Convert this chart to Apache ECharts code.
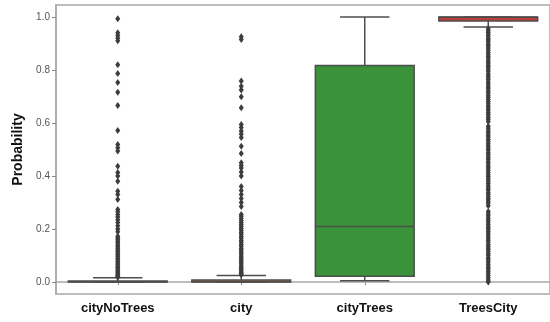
<!DOCTYPE html>
<html>
<head>
<meta charset="utf-8">
<script src="https://cdn.jsdelivr.net/npm/echarts@6/dist/echarts.min.js"></script>
<style>
html,body{margin:0;padding:0;background:#fff;}
#chart{width:550px;height:322px;}
</style>
</head>
<body>
<div id="chart"></div>
<script>
// ---- data ----
const categories = ['cityNoTrees', 'city', 'cityTrees', 'TreesCity'];
const boxMin    = [0.000, 0.000, 0.005, 0.962];
const boxQ1     = [0.000, 0.000, 0.022, 0.985];
const boxMedian = [0.001, 0.002, 0.210, 0.999];
const boxQ3     = [0.004, 0.008, 0.817, 1.000];
const boxMax    = [0.016, 0.025, 1.000, 1.000];
const yTicks = [0.0, 0.2, 0.4, 0.6, 0.8, 1.0];

const outliersCityNoTrees = [0.993, 0.94, 0.93, 0.92, 0.91, 0.82, 0.787, 0.753, 0.716, 0.666, 0.572, 0.519, 0.507, 0.494,
  0.437, 0.413, 0.40, 0.38, 0.343, 0.33, 0.311, 0.274, 0.265, 0.255, 0.245, 0.235, 0.225, 0.212, 0.20, 0.19,
  0.173, 0.166, 0.16, 0.153, 0.147, 0.14, 0.134, 0.128, 0.121, 0.115, 0.109, 0.102, 0.096, 0.09, 0.084, 0.078,
  0.072, 0.066, 0.06, 0.055, 0.05, 0.045, 0.04, 0.035, 0.031, 0.027, 0.023, 0.02, 0.018];
const outliersCity = [0.925, 0.915, 0.758, 0.739, 0.724, 0.699, 0.657, 0.594, 0.583, 0.57, 0.558, 0.545, 0.512, 0.485,
  0.45, 0.44, 0.43, 0.415, 0.40, 0.36, 0.345, 0.33, 0.315, 0.30, 0.285,
  0.255, 0.248, 0.24, 0.232, 0.225, 0.217, 0.21, 0.202, 0.195, 0.187, 0.18, 0.172, 0.165, 0.157, 0.15, 0.142,
  0.135, 0.127, 0.12, 0.112, 0.105, 0.097, 0.09, 0.083, 0.076, 0.069, 0.062, 0.055, 0.049, 0.043, 0.037, 0.032, 0.028];
const outliersCityTrees = [];
const outliersTreesCity = [0.955, 0.948, 0.941, 0.934, 0.927, 0.919, 0.913, 0.906, 0.898, 0.891, 0.883, 0.874, 0.866,
  0.858, 0.851, 0.843, 0.834, 0.826, 0.818, 0.811, 0.803, 0.795, 0.786, 0.778, 0.771, 0.763, 0.754, 0.746, 0.738,
  0.731, 0.722, 0.714, 0.705, 0.697, 0.689, 0.681, 0.673, 0.664, 0.656, 0.648, 0.64, 0.632, 0.623, 0.614, 0.606,
  0.588, 0.580, 0.571, 0.563, 0.555, 0.547, 0.538, 0.53, 0.522, 0.513, 0.505, 0.497, 0.488, 0.48, 0.472, 0.463,
  0.455, 0.447, 0.438, 0.43, 0.422, 0.413, 0.405, 0.397, 0.389, 0.38, 0.372, 0.363, 0.355, 0.347, 0.338, 0.33,
  0.322, 0.313, 0.305, 0.297, 0.288,
  0.266, 0.258, 0.25, 0.241, 0.233, 0.225, 0.216, 0.208, 0.2, 0.191, 0.183, 0.175, 0.166, 0.158, 0.15, 0.141,
  0.133, 0.125, 0.116, 0.108, 0.1, 0.091, 0.083, 0.075, 0.066, 0.058, 0.05, 0.041, 0.033, 0.025, 0.016, 0.008, 0.0];

// ---- build ----
const palette = ['#3274A1', '#E1812C', '#3A923A', '#C03D3E'];
const boxData = categories.map((c, i) => [i, boxMin[i], boxQ1[i], boxMedian[i], boxQ3[i], boxMax[i]]);
const allOutliers = [outliersCityNoTrees, outliersCity, outliersCityTrees, outliersTreesCity];
const outlierData = [];
allOutliers.forEach((arr, i) => arr.forEach(v => outlierData.push([categories[i], v])));

const lineCol = '#4d4d4d';
const chart = echarts.init(document.getElementById('chart'), null, {renderer: 'canvas'});
chart.setOption({
  animation: false,
  backgroundColor: '#fff',
  grid: {left: 56, right: -2, top: 5, bottom: 28, show: true, borderColor: '#a8a8a8', borderWidth: 1.5, backgroundColor: 'transparent'},
  xAxis: {
    type: 'category',
    data: categories,
    axisLine: {show: true, lineStyle: {color: '#a8a8a8', width: 1.5}},
    axisTick: {show: true, alignWithLabel: true, length: 3, lineStyle: {color: '#888'}},
    axisLabel: {color: '#111', fontSize: 13, fontWeight: 'bold', fontFamily: 'Liberation Sans, Arial, sans-serif', margin: 8},
    splitLine: {show: false}
  },
  yAxis: {
    type: 'value',
    min: -0.045,
    max: 1.045,
    name: 'Probability',
    nameLocation: 'middle',
    nameGap: 31,
    nameTextStyle: {color: '#111', fontSize: 14, fontWeight: 'bold', fontFamily: 'Liberation Sans, Arial, sans-serif'},
    axisLine: {show: true, lineStyle: {color: '#a8a8a8', width: 1.5}},
    axisTick: {show: true, length: 4, lineStyle: {color: '#888'}, customValues: yTicks},
    axisLabel: {color: '#555', fontSize: 10, fontFamily: 'Liberation Sans, Arial, sans-serif', margin: 6,
      customValues: yTicks, formatter: v => v.toFixed(1)},
    splitLine: {show: false}
  },
  series: [
    {
      type: 'custom',
      data: boxData,
      encode: {x: 0, y: [1, 2, 3, 4, 5]},
      z: 2,
      renderItem: function (params, api) {
        const cat = api.value(0);
        const mn = api.value(1), q1 = api.value(2), md = api.value(3), q3 = api.value(4), mx = api.value(5);
        const band = api.size([1, 0])[0];
        const w = band * 0.8;
        const cx = api.coord([cat, 0])[0];
        const y = v => api.coord([cat, v])[1];
        const ls = {stroke: lineCol, lineWidth: 1.5, fill: null};
        return {
          type: 'group',
          children: [
            {type: 'line', shape: {x1: cx, y1: y(q1), x2: cx, y2: y(mn)}, style: ls},
            {type: 'line', shape: {x1: cx, y1: y(q3), x2: cx, y2: y(mx)}, style: ls},
            {type: 'line', shape: {x1: cx - w / 4, y1: y(mn), x2: cx + w / 4, y2: y(mn)}, style: ls},
            {type: 'line', shape: {x1: cx - w / 4, y1: y(mx), x2: cx + w / 4, y2: y(mx)}, style: ls},
            {type: 'rect', shape: {x: cx - w / 2, y: y(q3), width: w, height: Math.max(y(q1) - y(q3), 0.5)},
              style: {fill: palette[params.dataIndex], stroke: lineCol, lineWidth: 1.5}},
            {type: 'line', shape: {x1: cx - w / 2, y1: y(md), x2: cx + w / 2, y2: y(md)}, style: ls}
          ]
        };
      }
    },
    {
      type: 'scatter',
      data: outlierData,
      symbol: 'diamond',
      symbolSize: [5, 7],
      z: 3,
      itemStyle: {color: '#3d3d3d', opacity: 1}
    }
  ]
});
</script>
</body>
</html>
